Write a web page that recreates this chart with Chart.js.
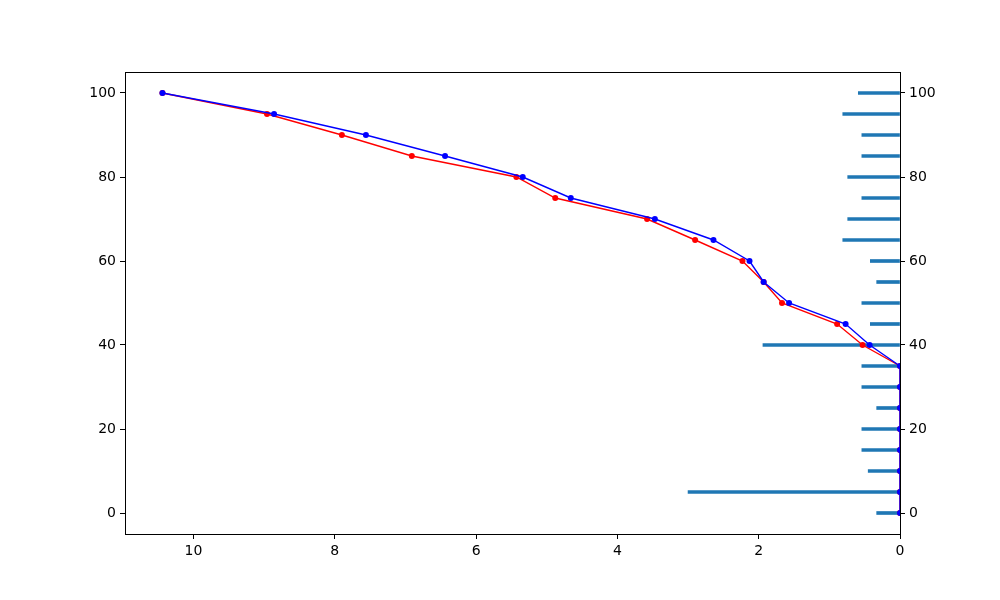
<!DOCTYPE html>
<html>
<head>
<meta charset="utf-8">
<script src="https://cdn.jsdelivr.net/npm/chart.js@4"></script>
<style>
  html, body { margin: 0; padding: 0; background: #fff; }
  #wrap { width: 1000px; height: 600px; }
</style>
</head>
<body>
<div id="wrap"><canvas id="myChart" width="1000" height="600"></canvas></div>
<script>
// levels shared by lines and bars
const levels = [100, 95, 90, 85, 80, 75, 70, 65, 60, 55, 50, 45, 40, 35, 30, 25, 20, 15, 10, 5, 0];
const redX   = [10.44, 8.96, 7.90, 6.91, 5.43, 4.88, 3.58, 2.90, 2.23, 1.93, 1.67, 0.89, 0.53, 0, 0, 0, 0, 0, 0, 0, 0];
const blueX  = [10.44, 8.86, 7.56, 6.44, 5.34, 4.66, 3.47, 2.64, 2.13, 1.93, 1.57, 0.77, 0.43, 0, 0, 0, 0, 0, 0, 0, 0];
const barX   = [0.59, 0.81, 0.54, 0.54, 0.74, 0.54, 0.74, 0.81, 0.42, 0.33, 0.54, 0.42, 1.94, 0.54, 0.54, 0.33, 0.54, 0.54, 0.45, 3.0, 0.33];

const xTicks = [0, 2, 4, 6, 8, 10];
const yTicks = [0, 20, 40, 60, 80, 100];

const toPts = xs => xs.map((x, i) => ({ x, y: levels[i] }));
const tickFont = { family: 'DejaVu Sans', size: 14 };

const lineDs = (data, color, order) => ({
  type: 'line', data, order,
  borderColor: color, borderWidth: 1.4,
  pointRadius: 3, pointBorderWidth: 0, pointBackgroundColor: color,
  pointHoverRadius: 3, tension: 0, fill: false,
  xAxisID: 'x', yAxisID: 'y'
});

const ctx = document.getElementById('myChart');
const myChart = new Chart(ctx, {
  data: {
    datasets: [
      {
        type: 'bar', indexAxis: 'y', order: 3,
        data: barX.map((x, i) => ({ x, y: levels[i] })),
        backgroundColor: '#1f77b4', borderWidth: 0,
        barThickness: 3,
        xAxisID: 'x', yAxisID: 'y'
      },
      lineDs(toPts(redX), '#ff0000', 2),
      lineDs(toPts(blueX), '#0000ff', 1)
    ]
  },
  options: {
    responsive: false,
    animation: false,
    devicePixelRatio: 1,
    layout: { padding: { top: 72, left: 0, right: 0, bottom: 0 } },
    plugins: { legend: { display: false }, tooltip: { enabled: false } },
    scales: {
      x: {
        type: 'linear', position: 'bottom', reverse: true, min: 0, max: 10.97,
        offset: false,
        afterBuildTicks: s => { s.ticks = xTicks.map(v => ({ value: v })); },
        afterFit: s => { s.height = 66; },
        ticks: { color: '#000', font: tickFont, padding: 4, maxRotation: 0 },
        grid: { drawOnChartArea: false, offset: false, tickLength: 5, color: '#000' },
        border: { color: '#000', width: 1 }
      },
      xTop: {
        type: 'linear', position: 'top', min: 0, max: 10.97,
        afterFit: s => { s.height = 0; },
        ticks: { display: false },
        grid: { display: false },
        border: { color: '#000', width: 1 }
      },
      y: {
        type: 'linear', position: 'left', min: -5, max: 105,
        offset: false,
        afterBuildTicks: s => { s.ticks = yTicks.map(v => ({ value: v })); },
        afterFit: s => { s.width = 125; },
        ticks: { color: '#000', font: tickFont, padding: 4, autoSkip: false },
        grid: { drawOnChartArea: false, offset: false, tickLength: 5, color: '#000' },
        border: { color: '#000', width: 1 }
      },
      y2: {
        type: 'linear', position: 'right', min: -5, max: 105,
        offset: false,
        afterBuildTicks: s => { s.ticks = yTicks.map(v => ({ value: v })); },
        afterFit: s => { s.width = 100; },
        ticks: { color: '#000', font: tickFont, padding: 4, autoSkip: false },
        grid: { drawOnChartArea: false, offset: false, tickLength: 5, color: '#000' },
        border: { color: '#000', width: 1 }
      }
    }
  }
});
</script>
</body>
</html>
